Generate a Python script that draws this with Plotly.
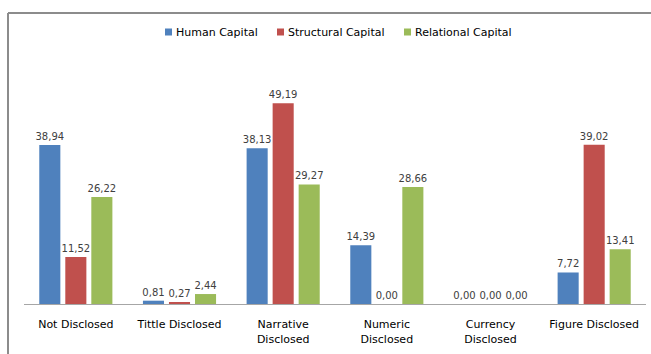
import plotly.graph_objects as go

categories = ["Not Disclosed", "Tittle Disclosed", "Narrative<br>Disclosed",
              "Numeric<br>Disclosed", "Currency<br>Disclosed", "Figure Disclosed"]
human = [38.94, 0.81, 38.13, 14.39, 0.00, 7.72]
structural = [11.52, 0.27, 49.19, 0.00, 0.00, 39.02]
relational = [26.22, 2.44, 29.27, 28.66, 0.00, 13.41]

series_names = ["Human Capital", "Structural Capital", "Relational Capital"]
series_values = [human, structural, relational]
series_colors = ["#4F81BD", "#C0504D", "#9BBB59"]

W, H = 651, 354
ml, mr, mt, mb = 24, 5, 59, 50
pw, ph = W - ml - mr, H - mt - mb
FONT = "DejaVu Sans"

def px_x(p):
    return (p - ml) / pw

def px_y(p):
    return (H - mb - p) / ph

fig = go.Figure()
for name, vals, col in zip(series_names, series_values, series_colors):
    fig.add_trace(go.Bar(
        name=name, x=categories, y=vals, marker_color=col,
        marker_line_width=0, showlegend=False,
        texttemplate="%{y:.2f}", textposition="outside", cliponaxis=False,
        constraintext="none",
        textfont=dict(family=FONT, size=10, color="#404040"),
    ))

# legend drawn as small squares plus text (Excel-style)
legend_marker_x = [165, 277, 404]
legend_y = 32
shapes = []
annotations = []
for name, col, mx in zip(series_names, series_colors, legend_marker_x):
    shapes.append(dict(type="rect", xref="paper", yref="paper",
                       x0=px_x(mx), x1=px_x(mx + 7), y0=px_y(legend_y + 3.5), y1=px_y(legend_y - 3.5),
                       fillcolor=col, line=dict(width=0)))
    annotations.append(dict(text=name, xref="paper", yref="paper", x=px_x(mx + 9), y=px_y(legend_y),
                            xanchor="left", yanchor="middle", showarrow=False,
                            font=dict(family=FONT, size=11, color="#000000")))

shapes += [
    dict(type="line", xref="paper", yref="paper", x0=px_x(8), x1=px_x(W + 5),
         y0=px_y(13), y1=px_y(13), line=dict(color="#8c8c8c", width=2)),
    dict(type="line", xref="paper", yref="paper", x0=px_x(8), x1=px_x(8),
         y0=px_y(13), y1=px_y(H + 5), line=dict(color="#8c8c8c", width=2)),
]

fig.update_layout(
    width=W, height=H, margin=dict(l=ml, r=mr, t=mt, b=mb),
    paper_bgcolor="white", plot_bgcolor="white",
    separators=",.",
    barmode="group", bargap=0.247, bargroupgap=0.19,
    font=dict(family=FONT, size=11, color="#000000"),
    showlegend=False,
    xaxis=dict(showline=True, linecolor="#a6a6a6", linewidth=1, showgrid=False,
               ticks="", ticklabelstandoff=10, tickfont=dict(family=FONT, size=11, color="#000000")),
    yaxis=dict(range=[0, 60], visible=False, showgrid=False),
    shapes=shapes,
    annotations=annotations,
)

fig.write_html("out.html")
